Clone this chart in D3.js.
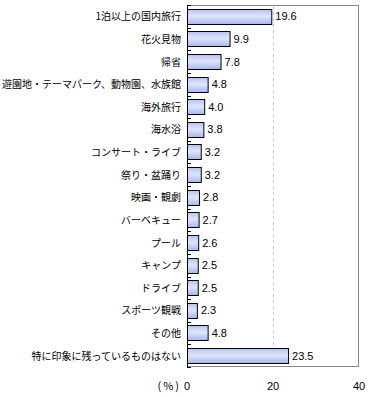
<!DOCTYPE html>
<html><head><meta charset="utf-8">
<script src="https://cdn.jsdelivr.net/npm/d3@7"></script>
<style>body{margin:0;background:#fff}</style>
</head><body>
<svg id="c" width="369" height="397"></svg>
<script>
const categories = ["1泊以上の国内旅行","花火見物","帰省","遊園地・テーマパーク、動物園、水族館","海外旅行","海水浴","コンサート・ライブ","祭り・盆踊り","映画・観劇","バーベキュー","プール","キャンプ","ドライブ","スポーツ観戦","その他","特に印象に残っているものはない"];
const values = [19.6,9.9,7.8,4.8,4.0,3.8,3.2,3.2,2.8,2.7,2.6,2.5,2.5,2.3,4.8,23.5];
const xTicks = [0,20,40];
const unitLabel = "(%)";

const svg = d3.select("#c");
const L = 187, R = 359, T = 5, B = 367;
const x = d3.scaleLinear().domain([0,40]).range([L,R]);
const y = d3.scaleBand().domain(categories).range([T,B]).paddingInner(0.33).paddingOuter(0.165);

const defs = svg.append("defs");
const g = defs.append("linearGradient").attr("id","bg").attr("x1",0).attr("y1",0).attr("x2",0).attr("y2",1);
g.append("stop").attr("offset","0%").attr("stop-color","#b4c2f2");
g.append("stop").attr("offset","45%").attr("stop-color","#dfe6fb");
g.append("stop").attr("offset","100%").attr("stop-color","#a6b6ee");

// frame
svg.append("rect").attr("x",L+0.5).attr("y",T+0.5).attr("width",R-L-1).attr("height",B-T-1)
  .attr("fill","none").attr("stroke","#888");
// gridline at 20
svg.append("line").attr("x1",Math.round(x(20))+0.5).attr("x2",Math.round(x(20))+0.5).attr("y1",T+1).attr("y2",B-1)
  .attr("stroke","#c4c4c4").attr("stroke-dasharray","3,3");

// bars
svg.selectAll("rect.bar").data(values).enter().append("rect").attr("class","bar")
  .attr("x",L+0.5).attr("y",(d,i)=>Math.round(y(categories[i]))+0.5)
  .attr("width",d=>x(d)-L).attr("height",Math.round(y.bandwidth()))
  .attr("fill","url(#bg)").attr("stroke","#000").attr("stroke-width",1);

// value labels
svg.selectAll("text.val").data(values).enter().append("text")
  .attr("x",d=>x(d)+4).attr("y",(d,i)=>y(categories[i])+y.bandwidth()/2+4)
  .attr("font-family","Liberation Sans, Arial, sans-serif").attr("font-size",11).attr("fill","#000")
  .text(d=>d.toFixed(1));

// left axis
svg.append("line").attr("x1",L+0.5).attr("x2",L+0.5).attr("y1",T).attr("y2",B).attr("stroke","#000");
const bounds = d3.range(categories.length+1).map(i=>T+i*(B-T)/categories.length);
svg.selectAll("line.tk").data(bounds).enter().append("line")
  .attr("x1",L).attr("x2",L+4).attr("y1",d=>Math.round(d)+0.5).attr("y2",d=>Math.round(d)+0.5).attr("stroke","#000");

// category labels
svg.selectAll("text.cat").data(categories).enter().append("text")
  .attr("x",181).attr("y",d=>y(d)+y.bandwidth()/2+4).attr("text-anchor","end")
  .attr("font-family","Noto Sans CJK JP, sans-serif").attr("font-size",10).attr("fill","#000")
  .text(d=>d);

// x tick labels
svg.selectAll("text.xt").data(xTicks).enter().append("text")
  .attr("x",d=>x(d)).attr("y",390).attr("text-anchor","middle")
  .attr("font-family","Liberation Sans, Arial, sans-serif").attr("font-size",11).attr("fill","#000")
  .text(d=>d);
svg.append("text").attr("x",181).attr("y",390).attr("text-anchor","end")
  .attr("font-family","Noto Sans CJK JP, sans-serif").attr("font-size",11).attr("letter-spacing",2).text(unitLabel);
</script>
</body></html>
